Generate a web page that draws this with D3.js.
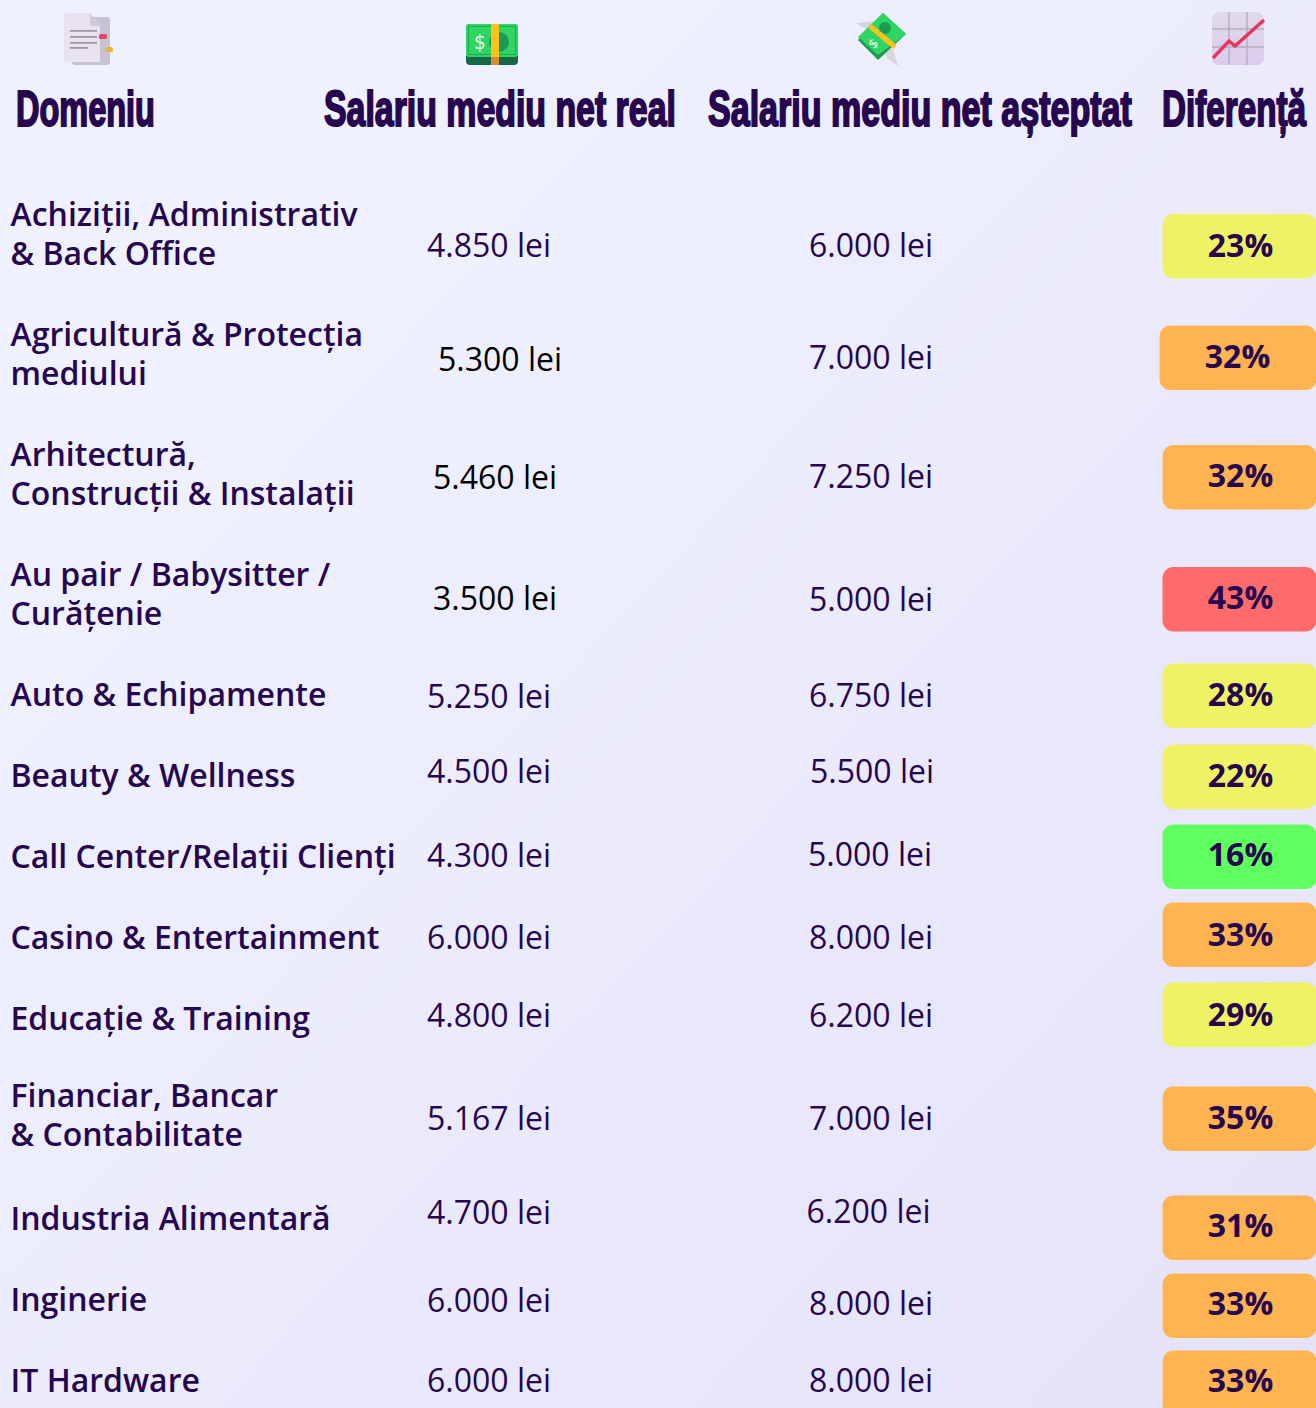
<!DOCTYPE html>
<html>
<head>
<meta charset="utf-8">
<script src="https://cdn.jsdelivr.net/npm/d3@7"></script>
<style>
    html, body { margin: 0; padding: 0; overflow: hidden; background: #eff1fe; }
    svg { display: block; }
    .label { font-family: "Open Sans"; font-weight: 600; font-size: 32px; fill: #26064f; }
    .value { font-family: "Open Sans"; font-weight: 400; font-size: 32px; fill: #26064f; }
    .pct { font-family: "Open Sans"; font-weight: 700; font-size: 32px; fill: #26064f; }
    .head { font-family: "Liberation Sans", sans-serif; font-weight: 700; font-size: 50px;
            fill: #26064f; stroke: #26064f; stroke-width: 2px; }
</style>
</head>
<body>
<div id="chart"></div>
<script>
// table values
var categories = [
    ["Achiziții, Administrativ", "& Back Office"],
    ["Agricultură & Protecția", "mediului"],
    ["Arhitectură,", "Construcții & Instalații"],
    ["Au pair / Babysitter /", "Curățenie"],
    ["Auto & Echipamente"],
    ["Beauty & Wellness"],
    ["Call Center/Relații Clienți"],
    ["Casino & Entertainment"],
    ["Educație & Training"],
    ["Financiar, Bancar", "& Contabilitate"],
    ["Industria Alimentară"],
    ["Inginerie"],
    ["IT Hardware"]
];
var realSalary = [4850, 5300, 5460, 3500, 5250, 4500, 4300, 6000, 4800, 5167, 4700, 6000, 6000];
var expectedSalary = [6000, 7000, 7250, 5000, 6750, 5500, 5000, 8000, 6200, 7000, 6200, 8000, 8000];
var difference = [23, 32, 32, 43, 28, 22, 16, 33, 29, 35, 31, 33, 33];
var headers = ["Domeniu", "Salariu mediu net real", "Salariu mediu net așteptat", "Diferență"];

var svgWidth = 1316;
var svgHeight = 1408;

// the source table is hand laid out, cells sit a few px off the row centre
var realNudge = [11.5, 6, 4, 4.5, 2, -3.5, -1, 0, -3, -0.5, -7, 0, -1];
var expectedNudge = [11.5, 4, 3, 5.5, 1, -3.5, -2, 0, -3, -0.5, -8, 3, -1];
var badgeNudge = [12.5, 4, 3.5, 5.5, 1.5, 1.5, 0.5, -2.5, -3.5, 0, 8.5, 5.5, 1.5];
var pctNudge = [12, 3, 2, 4, 0, 0, -2, -3, -4, -1, 6, 3, -1];
var labelNudge = [0, 0, 0, 0, 0, 0, 0, 0, 0, -4, -1, -1, -1];
var realShift = [0, 11, 6, 6, 0, 0, 0, 0, 0, 0, 0, 0, 0];
var expectedShift = [0, 0, 0, 0, 0, 1, -1, 0, 0, 0, -2.5, 0, 0];
var badgeShift = [0, -3, 0, 0, 0, 0, 0, 0, 0, 0, 0, 0, 0];
var blackRows = [1, 2, 3];

var svg = d3.select("#chart").append("svg")
    .attr("width", svgWidth)
    .attr("height", svgHeight);

// background
var defs = svg.append("defs");
var grad = defs.append("linearGradient")
    .attr("id", "bg")
    .attr("x1", "0").attr("y1", "0")
    .attr("x2", "1").attr("y2", "1");
grad.append("stop").attr("offset", "0.2").attr("stop-color", "#eff1fe");
grad.append("stop").attr("offset", "1").attr("stop-color", "#e5e2f9");

// the icons in the source are slightly soft
defs.append("filter").attr("id", "soft")
    .append("feGaussianBlur").attr("stdDeviation", 0.5);

var graphGrad = defs.append("linearGradient")
    .attr("id", "graphFill")
    .attr("x1", "0").attr("y1", "0")
    .attr("x2", "0").attr("y2", "1");
graphGrad.append("stop").attr("offset", "0").attr("stop-color", "#e0dae8");
graphGrad.append("stop").attr("offset", "1").attr("stop-color", "#dacbee");

svg.append("rect")
    .attr("width", svgWidth)
    .attr("height", svgHeight)
    .attr("fill", "url(#bg)");

// row centres: two line rows are taller than one line rows
var rowHeights = categories.map(c => c.length == 2 ? 120 : 81);
var rowTops = d3.cumsum([0].concat(rowHeights));
var rowY = categories.map((c, i) => 174 + rowTops[i] + rowHeights[i] / 2);

var fmt = d3.formatLocale({decimal: ",", thousands: ".", grouping: [3], currency: ["", " lei"]}).format(",d");

var badgeColor = d3.scaleThreshold()
    .domain([20, 30, 40])
    .range(["#5eff5e", "#f0f266", "#ffb351", "#ff6b6b"]);

var rows = categories.map((c, i) => ({
    label: c, real: realSalary[i], expected: expectedSalary[i], diff: difference[i], i: i
}));

// header, squeezed horizontally since no condensed heavy font is around
var headerPos = [
    {x: 16, w: 139},
    {x: 324, w: 352},
    {x: 708, w: 424},
    {x: 1162, w: 144}
];
svg.selectAll("text.head")
    .data(headers)
    .enter().append("text")
    .attr("class", "head")
    .text(d => d)
    .attr("transform", function(d, i) {
        var k = headerPos[i].w / this.getComputedTextLength();
        return "translate(" + headerPos[i].x + ",126) scale(" + k + ",1)";
    });

// rows
var row = svg.selectAll("g.row")
    .data(rows)
    .enter().append("g")
    .attr("class", "row");

row.append("text")
    .attr("class", "label")
    .attr("x", 10.5)
    .attr("y", d => rowY[d.i] + labelNudge[d.i])
    .each(function(d) {
        var lines = d.label;
        d3.select(this).selectAll("tspan")
            .data(lines)
            .enter().append("tspan")
            .attr("x", 10.5)
            .attr("dy", (l, j) => j == 0 ? (lines.length == 2 ? -8 : 11) : 38.5)
            .text(l => l);
    });

row.append("text")
    .attr("class", "value")
    .attr("text-anchor", "middle")
    .attr("x", d => 489 + realShift[d.i])
    .attr("y", d => rowY[d.i] + realNudge[d.i] + 11)
    .style("fill", d => blackRows.includes(d.i) ? "#000" : null)
    .text(d => fmt(d.real) + " lei");

row.append("text")
    .attr("class", "value")
    .attr("text-anchor", "middle")
    .attr("x", d => 871 + expectedShift[d.i])
    .attr("y", d => rowY[d.i] + expectedNudge[d.i] + 11)
    .text(d => fmt(d.expected) + " lei");

row.append("rect")
    .attr("x", d => 1162.5 + badgeShift[d.i])
    .attr("y", d => rowY[d.i] + badgeNudge[d.i] - 32.5)
    .attr("width", d => 154 - badgeShift[d.i])
    .attr("height", 64.5)
    .attr("rx", 11)
    .attr("fill", d => badgeColor(d.diff));

row.append("text")
    .attr("class", "pct")
    .attr("text-anchor", "middle")
    .attr("x", d => 1240.5 + badgeShift[d.i])
    .attr("y", d => rowY[d.i] + pctNudge[d.i] + 11)
    .text(d => d.diff + "%");

// header icons
function drawDocIcon(g) {
    g.append("rect").attr("x", 8).attr("y", 4).attr("width", 38).attr("height", 48).attr("rx", 3).attr("fill", "#c6c3d2");
    g.append("path").attr("d", "M3 0H26L36 13V49H3Q0 49 0 46V3Q0 0 3 0Z").attr("fill", "#e8e3ef");
    g.append("path").attr("d", "M26 0L36 13H29Q26 13 26 10Z").attr("fill", "#cfcbd8");
    [[17, 27], [23, 27], [29, 27], [34, 18]].forEach(d => {
        g.append("rect").attr("x", 6).attr("y", d[0]).attr("width", d[1]).attr("height", 1.8).attr("fill", "#9c98a6");
    });
    g.append("rect").attr("x", 35).attr("y", 21).attr("width", 8).attr("height", 5).attr("rx", 1.5).attr("fill", "#e8436f");
    g.append("rect").attr("x", 41).attr("y", 34).attr("width", 8).attr("height", 5).attr("rx", 1.5).attr("fill", "#e9b540");
}

function drawCashIcon(g) {
    g.append("rect").attr("width", 52).attr("height", 41).attr("rx", 4).attr("fill", "#14664a");
    g.append("rect").attr("width", 52).attr("height", 33).attr("rx", 3).attr("fill", "#2fd563");
    g.append("rect").attr("x", 2.5).attr("y", 2.5).attr("width", 47).attr("height", 28).attr("fill", "none").attr("stroke", "#1faa52");
    g.append("circle").attr("cx", 33).attr("cy", 18).attr("r", 10).attr("fill", "#1d9a55");
    g.append("rect").attr("x", 25).attr("width", 8).attr("height", 33).attr("fill", "#fcc21b");
    g.append("rect").attr("x", 25).attr("y", 33).attr("width", 8).attr("height", 8).attr("fill", "#d98e2e");
    g.append("text").attr("x", 14).attr("y", 25).attr("text-anchor", "middle")
        .attr("font-family", "DejaVu Sans").attr("font-size", 19).attr("fill", "#f2fff4").text("$");
}

function drawFlyingIcon(g) {
    g.append("path").attr("d", "M0 10L20 8L22 22Z").attr("fill", "#d8d6dc");
    g.append("path").attr("d", "M28 36L38 36L43 53L33 46Z").attr("fill", "#d8d6dc");
    g.append("path").attr("d", "M28 0L51 21L23 47L3 27Z").attr("fill", "#1f9a55");
    g.append("path").attr("d", "M28 0L51 21L23 42L3 24Z").attr("fill", "#2fd563");
    g.append("circle").attr("cx", 30).attr("cy", 15).attr("r", 6).attr("fill", "#1d9a55");
    g.append("path").attr("d", "M15 13L40 34").attr("stroke", "#fcc21b").attr("stroke-width", 5).attr("fill", "none");
    g.append("text").attr("x", 18).attr("y", 35).attr("text-anchor", "middle")
        .attr("font-family", "DejaVu Sans").attr("font-size", 13).attr("fill", "#f2fff4")
        .attr("transform", "rotate(-45 18 30)").text("$");
}

function drawGraphIcon(g) {
    g.append("rect").attr("width", 52).attr("height", 53).attr("rx", 7).attr("fill", "url(#graphFill)");
    [17, 35].forEach(p => {
        g.append("path").attr("d", "M" + p + " 0V53").attr("stroke", "#b5adc2").attr("stroke-width", 1.4);
        g.append("path").attr("d", "M0 " + p + "H52").attr("stroke", "#b5adc2").attr("stroke-width", 1.4);
    });
    g.append("path").attr("d", "M1 46L17 29L23 34L52 8")
        .attr("fill", "none").attr("stroke", "#e5355f").attr("stroke-width", 3.4);
}

var icons = [
    {x: 64, y: 13, draw: drawDocIcon},
    {x: 466, y: 24, draw: drawCashIcon},
    {x: 855, y: 13, draw: drawFlyingIcon},
    {x: 1212, y: 12, draw: drawGraphIcon}
];
icons.forEach(d => {
    var g = svg.append("g")
        .attr("filter", "url(#soft)")
        .attr("transform", "translate(" + d.x + "," + d.y + ")");
    d.draw(g);
});
</script>
</body>
</html>
